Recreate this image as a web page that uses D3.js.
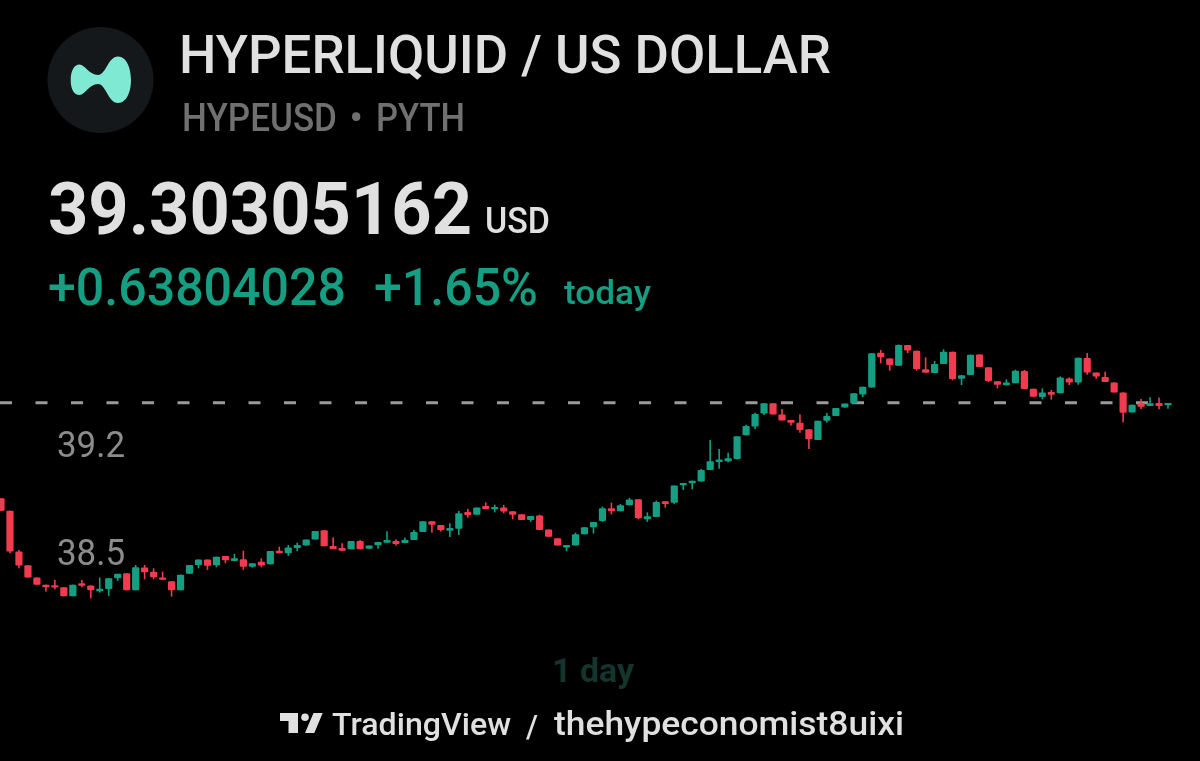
<!DOCTYPE html>
<html>
<head>
<meta charset="utf-8">
<script src="https://cdn.jsdelivr.net/npm/d3@7"></script>
<style>
  html, body { margin: 0; padding: 0; background: #000; overflow: hidden; }
</style>
</head>
<body>
<div id="container"></div>
<script>
let opens = [38.683,38.603,38.337,38.248,38.168,38.122,38.118,38.105,38.046,38.131,38.116,38.079,38.094,38.163,38.196,38.085,38.233,38.205,38.168,38.144,
  38.085,38.192,38.250,38.285,38.248,38.309,38.276,38.287,38.239,38.270,38.254,38.343,38.326,38.361,38.376,38.415,38.475,38.374,38.361,38.352,
  38.406,38.356,38.378,38.395,38.406,38.393,38.413,38.465,38.534,38.510,38.473,38.486,38.595,38.577,38.634,38.612,38.623,38.599,38.579,38.543,
  38.571,38.480,38.423,38.363,38.376,38.449,38.495,38.536,38.618,38.599,38.638,38.677,38.547,38.562,38.664,38.655,38.768,38.781,38.792,38.868,
  38.920,38.924,38.939,39.093,39.151,39.234,39.301,39.229,39.193,39.175,39.132,39.063,39.188,39.219,39.273,39.299,39.359,39.403,39.630,39.593,
  39.546,39.680,39.643,39.522,39.498,39.557,39.637,39.461,39.485,39.619,39.535,39.444,39.418,39.431,39.511,39.396,39.342,39.375,39.366,39.463,
  39.437,39.596,39.502,39.472,39.437,39.372,39.242,39.301,39.284,39.303,39.288];
let closes = [38.603,38.337,38.246,38.168,38.122,38.105,38.103,38.046,38.122,38.114,38.085,38.096,38.163,38.192,38.085,38.235,38.202,38.170,38.153,38.085,
  38.187,38.250,38.285,38.244,38.304,38.280,38.293,38.239,38.261,38.246,38.341,38.326,38.363,38.380,38.415,38.471,38.371,38.354,38.343,38.406,
  38.352,38.376,38.400,38.413,38.387,38.413,38.465,38.534,38.512,38.478,38.491,38.586,38.575,38.623,38.614,38.627,38.597,38.577,38.543,38.569,
  38.478,38.434,38.376,38.380,38.449,38.495,38.530,38.618,38.599,38.638,38.675,38.553,38.566,38.660,38.647,38.766,38.783,38.798,38.868,38.924,
  38.935,38.943,39.086,39.154,39.232,39.301,39.229,39.190,39.175,39.128,39.067,39.188,39.219,39.271,39.299,39.366,39.409,39.626,39.600,39.550,
  39.680,39.645,39.522,39.500,39.557,39.637,39.459,39.483,39.617,39.537,39.446,39.422,39.437,39.513,39.394,39.344,39.372,39.357,39.468,39.437,
  39.598,39.502,39.476,39.440,39.372,39.240,39.292,39.279,39.301,39.284,39.303];
let highs = [38.683,38.603,38.348,38.248,38.168,38.122,38.152,38.105,38.122,38.152,38.116,38.168,38.163,38.192,38.196,38.250,38.250,38.228,38.207,38.144,
  38.187,38.250,38.285,38.285,38.304,38.309,38.322,38.343,38.261,38.293,38.341,38.369,38.380,38.395,38.415,38.471,38.475,38.430,38.391,38.406,
  38.413,38.376,38.400,38.469,38.417,38.428,38.478,38.534,38.534,38.510,38.521,38.601,38.614,38.623,38.657,38.642,38.640,38.599,38.579,38.569,
  38.577,38.480,38.423,38.380,38.460,38.495,38.530,38.629,38.655,38.647,38.686,38.677,38.592,38.668,38.664,38.766,38.783,38.798,38.874,39.063,
  39.004,38.980,39.086,39.162,39.240,39.301,39.301,39.264,39.193,39.229,39.132,39.188,39.238,39.271,39.299,39.366,39.409,39.626,39.648,39.593,
  39.684,39.680,39.643,39.600,39.576,39.652,39.637,39.483,39.617,39.619,39.535,39.444,39.457,39.520,39.518,39.396,39.398,39.388,39.476,39.470,
  39.598,39.628,39.502,39.507,39.437,39.372,39.292,39.329,39.340,39.338,39.303];
let lows = [38.603,38.326,38.228,38.168,38.122,38.077,38.092,38.046,38.046,38.105,38.033,38.070,38.049,38.146,38.085,38.085,38.157,38.157,38.153,38.044,
  38.085,38.192,38.228,38.218,38.235,38.261,38.276,38.218,38.233,38.235,38.254,38.326,38.309,38.339,38.376,38.415,38.371,38.354,38.343,38.352,
  38.352,38.356,38.356,38.395,38.376,38.393,38.413,38.465,38.460,38.467,38.432,38.445,38.558,38.577,38.614,38.592,38.586,38.547,38.543,38.530,
  38.478,38.434,38.376,38.339,38.376,38.449,38.454,38.530,38.579,38.599,38.638,38.547,38.530,38.562,38.623,38.647,38.738,38.742,38.792,38.868,
  38.876,38.917,38.935,39.093,39.134,39.225,39.229,39.190,39.156,39.110,39.004,39.063,39.175,39.219,39.273,39.299,39.342,39.403,39.561,39.513,
  39.546,39.628,39.513,39.500,39.498,39.557,39.450,39.420,39.485,39.537,39.440,39.398,39.418,39.431,39.394,39.344,39.327,39.325,39.366,39.420,
  39.422,39.487,39.461,39.440,39.372,39.177,39.242,39.264,39.284,39.262,39.266];
let yTicks = [39.2, 38.5];
let lastPrice = 39.30305162;

let w = 1200,
    h = 761;

let viz = d3.select('#container')
    .append('svg')
      .attr('width', w)
      .attr('height', h)
      .style('display', 'block')
      .style('background', '#000')
      .style('filter', 'blur(0.4px)')
;

let green = '#159e82',
    red = '#f23b4e';

// one pixel is 0.0065 on the price axis
let x = d3.scaleLinear().domain([0, opens.length - 1]).range([1, 1168]);
let y = d3.scaleLinear().domain([39.303, 38.5]).range([403, 526.5]);

function label(px, py, str, size, weight, fill, len) {
    let t = viz.append('text')
        .attr('x', px)
        .attr('y', py)
        .attr('font-family', 'Roboto')
        .attr('font-size', size)
        .attr('font-weight', weight)
        .attr('fill', fill)
        .text(str);
    if (len) t.attr('textLength', len).attr('lengthAdjust', 'spacingAndGlyphs');
    return t;
}

function header() {
    viz.append('circle')
        .attr('cx', 100.5)
        .attr('cy', 80)
        .attr('r', 53)
        .attr('fill', '#14181b');
    viz.append('path')
        .attr('d', 'M70.7 80 C70.7 71 74 64.5 79.5 64.5 C85 64.5 89 75 98 75 C106 75 108 56.5 118 56.5 C126.5 56.5 131 68 131 80 C131 92 126.5 103 118 103 C108 103 106 84 98 84 C89 84 85 95 79.5 95 C74 95 70.7 89 70.7 80 Z')
        .attr('fill', '#7fe9d3');

    label(179, 72.5, 'HYPERLIQUID / US DOLLAR', 54, 500, '#e0e0e0', 652);
    label(182, 130.5, 'HYPEUSD', 38, 500, '#707070', 155);
    label(349.5, 130.5, '•', 38, 500, '#707070');
    label(376, 130.5, 'PYTH', 38, 500, '#707070', 89);
    label(48, 234, lastPrice.toFixed(8), 72, 700, '#e0e0e0', 424);
    label(485, 233, 'USD', 37, 500, '#e0e0e0', 65);
    label(48, 304.5, '+0.63804028', 51, 500, green, 298);
    label(374, 304.5, '+1.65%', 51, 500, green, 164);
    label(564, 304, 'today', 33, 500, green, 87);
}

function chart() {
    viz.append('line')
        .attr('x1', 0)
        .attr('x2', 1170)
        .attr('y1', y(39.303) - 0.3)
        .attr('y2', y(39.303) - 0.3)
        .attr('stroke', '#9a9a9a')
        .attr('stroke-width', 3)
        .attr('stroke-dasharray', '12 23.5');

    let axis = viz.append('g')
        .attr('transform', 'translate(57,0)')
        .call(d3.axisRight(y).tickValues(yTicks).tickSize(0).tickPadding(0).tickFormat(d3.format('.1f')));
    axis.select('.domain').remove();
    axis.selectAll('text')
        .attr('dy', 37.7)
        .attr('font-family', 'Roboto')
        .attr('font-size', 36)
        .attr('fill', '#8c8c8c')
        .attr('textLength', 68)
        .attr('lengthAdjust', 'spacingAndGlyphs');

    let candles = viz.append('g')
        .selectAll('g')
        .data(d3.range(opens.length))
        .join('g')
        .attr('fill', i => closes[i] >= opens[i] ? green : red);
    candles.append('rect')
        .attr('x', i => x(i) - 0.8)
        .attr('width', 1.6)
        .attr('y', i => y(highs[i]))
        .attr('height', i => y(lows[i]) - y(highs[i]));
    candles.append('rect')
        .attr('x', i => x(i) - 3.6)
        .attr('width', 7.2)
        .attr('rx', 1)
        .attr('y', i => y(Math.max(opens[i], closes[i])))
        .attr('height', i => Math.max(2, Math.abs(y(opens[i]) - y(closes[i]))));
}

function footer() {
    label(552, 682, '1 day', 33, 700, '#14352c', 82);

    viz.append('path')
        .attr('d', 'M280 713 H298 V733 H288.5 V721 H280 Z M313.5 713 H322.7 L314.3 733 H305 Z')
        .attr('fill', '#e0e0e0');
    viz.append('circle')
        .attr('cx', 305)
        .attr('cy', 717.3)
        .attr('r', 3.8)
        .attr('fill', '#e0e0e0');

    label(332, 735, 'TradingView', 31, 500, '#e0e0e0', 179);
    label(526, 737, '/', 31, 500, '#e0e0e0', 12);
    label(554, 735, 'thehypeconomist8uixi', 33, 500, '#e0e0e0', 350);
}

function main() {
    header();
    chart();
    footer();
}

main();
</script>
</body>
</html>
